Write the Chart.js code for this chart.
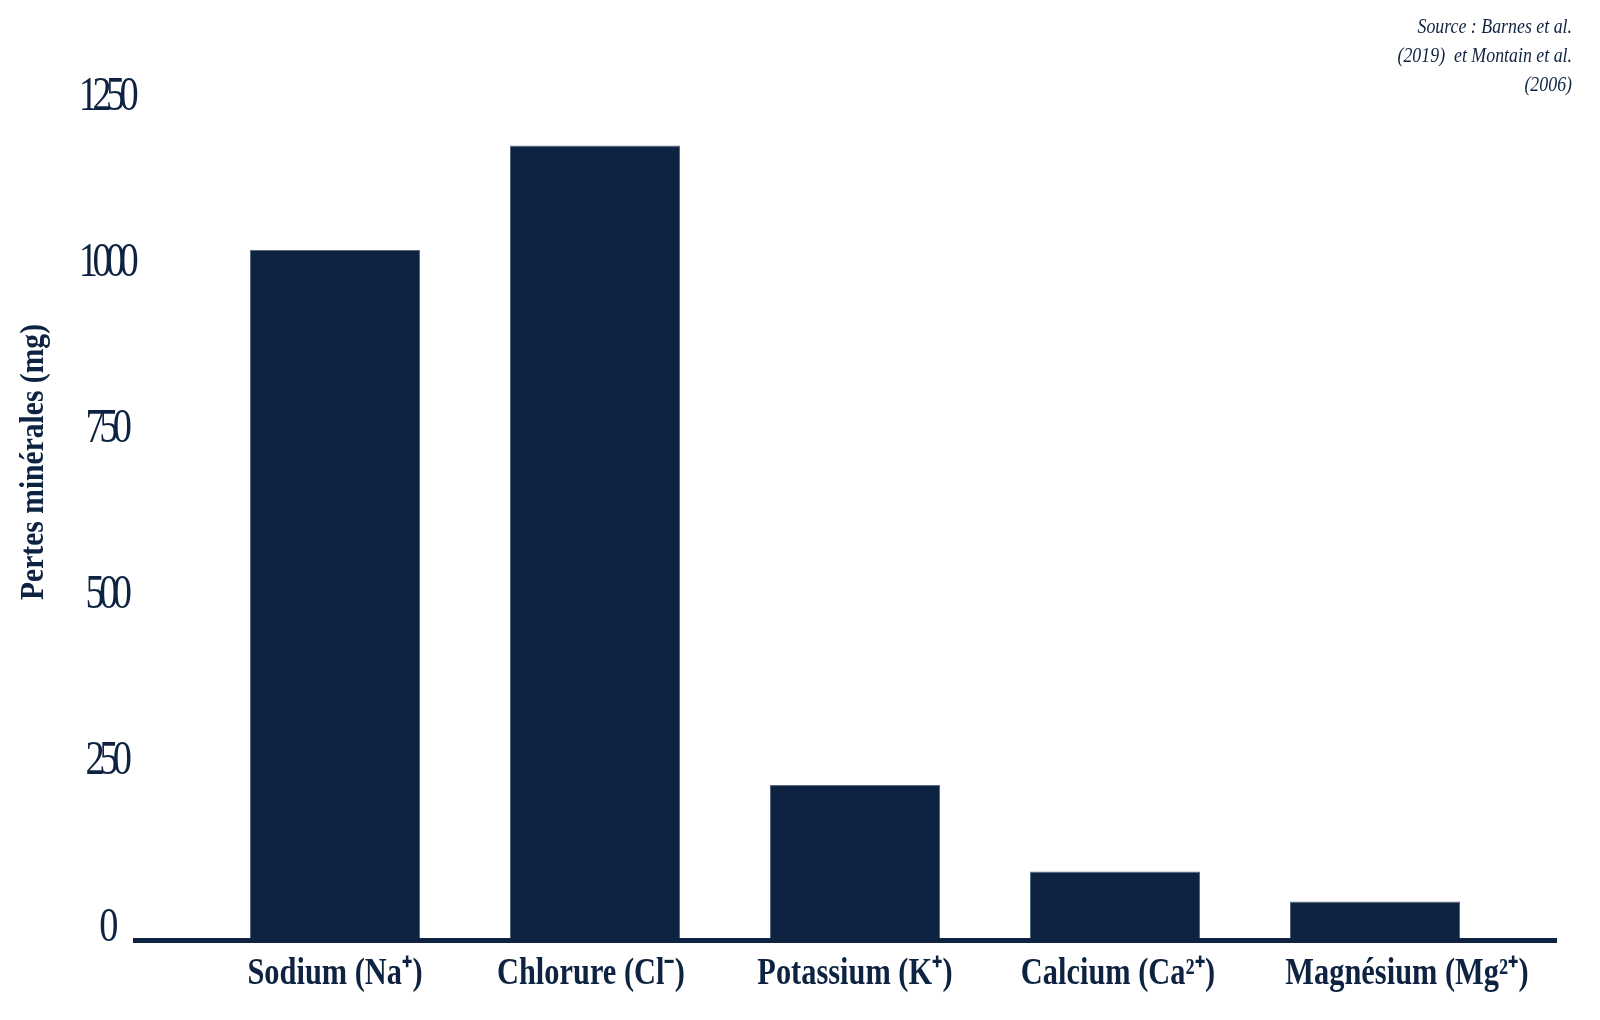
<!DOCTYPE html>
<html lang="fr">
<head>
<meta charset="utf-8">
<title>Pertes minérales</title>
<script src="https://cdn.jsdelivr.net/npm/chart.js@4.4.1/dist/chart.umd.min.js"></script>
<style>
  html, body { margin: 0; padding: 0; background: #ffffff; }
  canvas { display: block; }
</style>
</head>
<body>
<canvas id="chartPertes" width="1600" height="1020"></canvas>
<script>
// données
const categories = ["Sodium (Na⁺)", "Chlorure (Cl⁻)", "Potassium (K⁺)", "Calcium (Ca²⁺)", "Magnésium (Mg²⁺)"];
const pertes = [1035, 1192, 230, 100, 55];
const yTicks = [0, 250, 500, 750, 1000, 1250];
const sourceLines = ["Source : Barnes et al.", "(2019)  et Montain et al.", "(2006)"];
const yTitle = "Pertes minérales (mg)";

const NAVY = "#0e2341";
const SERIF = "'Liberation Serif', 'Times New Roman', serif";
// petits décalages des étiquettes X (mise en page d'origine)
const labelNudge = [0, -4, 0, 3, 32];

// texte resserré horizontalement (police condensée)
function squeeze(ctx, text, x, y, sx, rot, spacing) {
    ctx.save();
    ctx.translate(x, y);
    if (rot) ctx.rotate(rot);
    ctx.scale(sx, 1);
    if (spacing) ctx.letterSpacing = spacing;
    ctx.fillText(text, 0, 0);
    ctx.restore();
}

const decorPlugin = {
    id: "decor",
    afterDatasetsDraw(chart) {
        const { ctx, chartArea, scales } = chart;
        const x = scales.x, y = scales.y;

        // ligne de base
        ctx.save();
        ctx.fillStyle = NAVY;
        ctx.fillRect(chartArea.left - 72, chartArea.bottom, (chartArea.right + 52) - (chartArea.left - 72), 5);

        // graduations Y
        ctx.font = "48px " + SERIF;
        ctx.textAlign = "center";
        ctx.textBaseline = "middle";
        yTicks.forEach(v => {
            squeeze(ctx, String(v), 106, y.getPixelForValue(v) - 10, 0.8, 0, "-7px");
        });

        // étiquettes X
        ctx.font = "bold 38px " + SERIF;
        ctx.textBaseline = "middle";
        categories.forEach((c, i) => {
            squeeze(ctx, c, x.getPixelForValue(i) + labelNudge[i], chartArea.bottom + 36, 0.8);
        });

        // titre de l'axe Y
        ctx.font = "bold 34px " + SERIF;
        squeeze(ctx, yTitle, 34, 462, 0.87, -Math.PI / 2);

        // source
        ctx.font = "italic 21px " + SERIF;
        ctx.textAlign = "right";
        ctx.textBaseline = "alphabetic";
        const base = [33, 62, 91];
        sourceLines.forEach((l, i) => squeeze(ctx, l, 1572, base[i], 0.85));
        ctx.restore();
    }
};

new Chart(document.getElementById("chartPertes"), {
    type: "bar",
    data: {
        labels: categories,
        datasets: [{
            label: "Pertes minérales (mg)",
            data: pertes,
            backgroundColor: NAVY,
            borderColor: "#5a6a82",
            borderWidth: 1,
            borderSkipped: "bottom",
            categoryPercentage: 1,
            barPercentage: 0.654
        }]
    },
    options: {
        responsive: false,
        animation: false,
        layout: { padding: { left: 205, right: 95, top: 107, bottom: 82 } },
        plugins: {
            legend: { display: false },
            tooltip: { enabled: false }
        },
        scales: {
            x: { display: false, offset: true },
            y: { display: false, min: 0, max: 1250, ticks: { stepSize: 250 } }
        }
    },
    plugins: [decorPlugin]
});
</script>
</body>
</html>
